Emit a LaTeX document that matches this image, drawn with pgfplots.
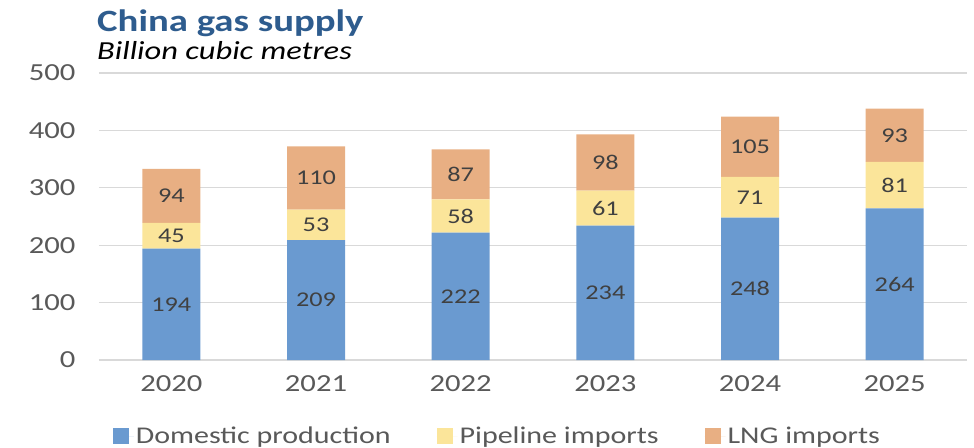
\documentclass[border=0pt]{standalone}
\usepackage{pgfplots}
\pgfplotsset{compat=1.18}
\usepackage{fontspec}
\setmainfont{Carlito}[FakeStretch=1.25]
\definecolor{dom}{HTML}{6A9AD0}
\definecolor{pipe}{HTML}{FBE59A}
\definecolor{lng}{HTML}{E8AF83}
\definecolor{titleblue}{HTML}{2E5C8E}
\definecolor{ticklab}{HTML}{595959}
\definecolor{lab}{HTML}{404040}
\definecolor{gridgray}{HTML}{D9D9D9}
\begin{document}
\begin{tikzpicture}
\begin{axis}[
  scale only axis, width=868pt, height=287pt,
  clip=false,
  /pgf/number format/assume math mode=true,
  ybar stacked, bar width=58pt,
  xmin=-0.5, xmax=5.5, ymin=0, ymax=500,
  xtick={0,1,2,3,4,5}, xticklabels={2020,2021,2022,2023,2024,2025},
  ytick={0,100,200,300,400,500},
  ymajorgrids, grid style={draw=gridgray, line width=1.2pt},
  axis x line*=bottom, axis y line*=left,
  x axis line style={draw=gridgray, line width=1.4pt},
  y axis line style={draw=none},
  major tick length=0pt,
  tick label style={font=\fontsize{24.5}{24.5}\selectfont, color=ticklab},
  yticklabel style={xshift=-20pt},
  xticklabel style={yshift=-12pt},
  nodes near coords,
  point meta=rawy,
  every node near coord/.append style={anchor=center, font=\fontsize{21}{21}\selectfont, color=lab},
  legend columns=3,
  legend style={at={(0.459,-0.265)}, anchor=center, draw=none, fill=none, font=\fontsize{24}{24}\selectfont, text=ticklab,
    /tikz/every even column/.append style={column sep=44pt}},
  legend image code/.code={\fill[#1,draw=none] (0pt,-8pt) rectangle (16pt,8pt); \path (0pt,0pt) -- (21pt,0pt);},
]
\addplot[fill=dom, draw=none] coordinates {(0,194) (1,209) (2,222) (3,234) (4,248) (5,264)};
\addplot[fill=pipe, draw=none] coordinates {(0,45) (1,53) (2,58) (3,61) (4,71) (5,81)};
\addplot[fill=lng, draw=none] coordinates {(0,94) (1,110) (2,87) (3,98) (4,105) (5,93)};
\legend{Domestic production, Pipeline imports, LNG imports}
\node[anchor=base west, font=\fontsize{31}{31}\selectfont\bfseries, color=titleblue, inner sep=0pt] at ([shift={(-2pt,41pt)}]rel axis cs:0,1) {China gas supply};
\node[anchor=base west, font=\fontsize{26}{26}\selectfont\itshape, color=black, inner sep=0pt] at ([shift={(-2pt,13pt)}]rel axis cs:0,1) {Billion cubic metres};
\coordinate (TL) at ([shift={(-99pt,73pt)}]rel axis cs:0,1);
\coordinate (BR) at ([shift={(7pt,-88pt)}]rel axis cs:1,0);
\end{axis}
\pgfresetboundingbox
\useasboundingbox (TL) rectangle (BR);
\end{tikzpicture}
\end{document}
